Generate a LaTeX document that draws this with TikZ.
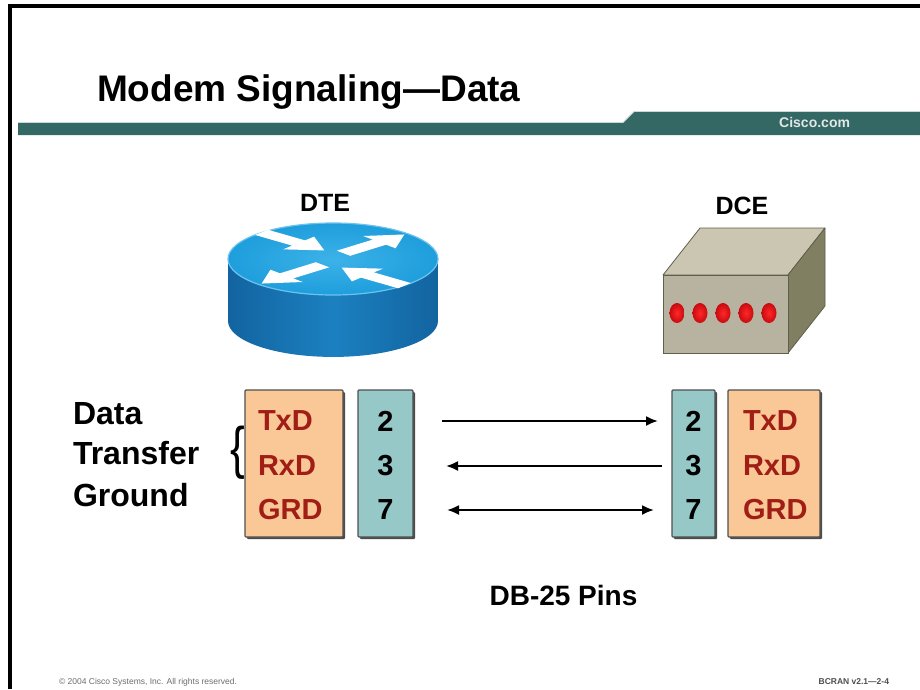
\documentclass[tikz,border=0pt]{standalone}
\usepackage{fontspec}
\setmainfont{Liberation Sans}
\usetikzlibrary{arrows.meta}

\definecolor{banner}{RGB}{52,104,100}
\definecolor{bannerlight}{RGB}{205,215,212}
\definecolor{bannertext}{RGB}{225,232,230}
\definecolor{routertop}{RGB}{30,158,220}
\definecolor{routertoplight}{RGB}{60,178,232}
\definecolor{routerside}{RGB}{28,128,192}
\definecolor{routersidedark}{RGB}{18,100,160}
\definecolor{routerrim}{RGB}{110,195,238}
\definecolor{modemtop}{RGB}{202,198,178}
\definecolor{modemfront}{RGB}{184,179,160}
\definecolor{modemside}{RGB}{128,127,98}
\definecolor{modemedge}{RGB}{95,95,75}
\definecolor{ledred}{RGB}{200,10,15}
\definecolor{ledlight}{RGB}{255,40,40}
\definecolor{peach}{RGB}{250,200,150}
\definecolor{paleteal}{RGB}{150,200,200}
\definecolor{boxedge}{RGB}{80,80,80}
\definecolor{signame}{RGB}{160,30,22}
\definecolor{footgray}{RGB}{110,110,110}

% one white arrow on the router top, in the unit-circle frame
\newcommand\routerarrow[3]{%
  \fill[white, shift={(#1,#2)}, rotate=#3]
    (0,-0.095) -- (0.46,-0.095) -- (0.46,-0.23) -- (0.78,0)
    -- (0.46,0.23) -- (0.46,0.095) -- (0,0.095) -- cycle;}

\begin{document}
\begin{tikzpicture}[x=1pt,y=1pt,
  every node/.style={inner sep=0pt, outer sep=0pt},
  heading/.style={font=\bfseries\fontsize{37}{37}\selectfont},
  devlabel/.style={font=\bfseries\fontsize{25}{25}\selectfont},
  sidelabel/.style={font=\bfseries\fontsize{32}{32}\selectfont, anchor=base west},
  pinname/.style={font=\bfseries\fontsize{29}{29}\selectfont, text=signame, anchor=west},
  pinnum/.style={font=\bfseries\fontsize{29}{29}\selectfont},
  namebox/.style={draw=boxedge, line width=1.2pt, fill=peach, rounded corners=1pt},
  numbox/.style={draw=boxedge, line width=1.2pt, fill=paleteal, rounded corners=1pt},
  boxshadow/.style={fill=black!70, rounded corners=1pt},
  sig/.style={line width=2pt}
]
\useasboundingbox (0,0) rectangle (920,-689);
\fill[white] (0,0) rectangle (920,-689);

% page frame
\draw[line width=4pt, black] (10,-689) -- (10,-6) -- (920,-6);

% title banner
\fill[banner] (18,-123) -- (623,-123) -- (634,-112) -- (920,-112)
  -- (920,-135) -- (18,-135) -- cycle;
\draw[bannerlight, line width=0.8pt] (18,-122.4) -- (623,-122.4) -- (634,-111.4) -- (920,-111.4);
\node[heading, anchor=base west] (title) at (97,-101) {Modem Signaling—Data};
\node[anchor=base east, text=bannertext, font=\bfseries\fontsize{14}{14}\selectfont] (site) at (850,-127) {Cisco.com};

% device labels
\node[devlabel] (dte) at (325,-203) {DTE};
\node[devlabel] (dce) at (742,-206) {DCE};

% router
\begin{scope}[shift={(333,-259)}, xscale=105, yscale=36]
  \shade[left color=routersidedark, right color=routersidedark, middle color=routerside]
    (-1,0) -- (-1,-1.72) arc[start angle=180, end angle=360, radius=1] -- (1,0) -- cycle;
  \shade[inner color=routertoplight, outer color=routertop] (0,0) circle[radius=1];
  \draw[routerrim, line width=1.2pt] (0,0) circle[radius=1];
  \routerarrow{-0.68}{0.74}{-40}
  \routerarrow{0.68}{-0.74}{140}
  \routerarrow{0.10}{0.16}{42}
  \routerarrow{-0.10}{-0.16}{222}
\end{scope}

% modem
\fill[modemtop, draw=modemedge, line width=0.8pt, line join=round]
  (663,-275) -- (700,-228) -- (825,-228) -- (788,-275) -- cycle;
\fill[modemside, draw=modemedge, line width=0.8pt, line join=round]
  (788,-275) -- (825,-228) -- (825,-306) -- (788,-353) -- cycle;
\fill[modemfront, draw=modemedge, line width=0.8pt] (663,-275) rectangle (788,-353);
\foreach \lx in {677,700,723,746,769}
  \shade[inner color=ledlight, outer color=ledred] (\lx,-313) ellipse[x radius=7.5, y radius=10];

% connector boxes, left side
\fill[boxshadow] (247,-392) rectangle (345,-539);
\node[namebox, minimum width=98pt, minimum height=147pt] (lnames) at (294,-463.5) {};
\fill[boxshadow] (360,-392) rectangle (415,-539);
\node[numbox, minimum width=55pt, minimum height=147pt] (lpins) at (385.5,-463.5) {};

% connector boxes, right side
\fill[boxshadow] (674,-392) rectangle (717,-539);
\node[numbox, minimum width=43pt, minimum height=147pt] (rpins) at (693.5,-463.5) {};
\fill[boxshadow] (730,-392) rectangle (822,-539);
\node[namebox, minimum width=92pt, minimum height=147pt] (rnames) at (774,-463.5) {};

% signal names and pin numbers
\node[pinname] (ltx) at (258,-421) {TxD};
\node[pinname] (lrx) at (258,-466) {RxD};
\node[pinname] (lgd) at (258,-510) {GRD};
\node[pinnum] (l2) at (385.5,-421) {2};
\node[pinnum] (l3) at (385.5,-466) {3};
\node[pinnum] (l7) at (385.5,-510) {7};
\node[pinnum] (r2) at (693.5,-421) {2};
\node[pinnum] (r3) at (693.5,-466) {3};
\node[pinnum] (r7) at (693.5,-510) {7};
\node[pinname] (rtx) at (743,-421) {TxD};
\node[pinname] (rrx) at (743,-466) {RxD};
\node[pinname] (rgd) at (743,-510) {GRD};

% signal lines
\coordinate (s1a) at (442,-421); \coordinate (s1b) at (658,-421);
\coordinate (s2a) at (662,-466); \coordinate (s2b) at (446,-466);
\coordinate (s3a) at (447,-510); \coordinate (s3b) at (654,-510);
\draw[sig, -{Latex[length=12pt,width=10pt]}] (s1a) -- (s1b);
\draw[sig, -{Latex[length=12pt,width=10pt]}] (s2a) -- (s2b);
\draw[sig, {Latex[length=12pt,width=10pt]}-{Latex[length=12pt,width=10pt]}] (s3a) -- (s3b);

% grouping labels
\node[sidelabel] (gdata) at (73,-424) {Data};
\node[sidelabel] (gxfer) at (73,-464) {Transfer};
\node[sidelabel] (gground) at (73,-506) {Ground};
\node[font=\fontsize{44}{44}\selectfont] (brace) at (238,-453) {\scalebox{1}[1.3]{\{}};

% caption
\node[anchor=base, font=\bfseries\fontsize{28}{28}\selectfont] (caption) at (563.5,-605) {DB-25 Pins};

% footer
\node[anchor=base west, text=footgray, font=\fontsize{8.5}{8.5}\selectfont] (copy) at (59,-684) {© 2004 Cisco Systems, Inc. All rights reserved.};
\node[anchor=base east, text=footgray!70!black, font=\bfseries\fontsize{8.5}{8.5}\selectfont] (course) at (889,-684) {BCRAN v2.1—2-4};
\end{tikzpicture}
\end{document}
